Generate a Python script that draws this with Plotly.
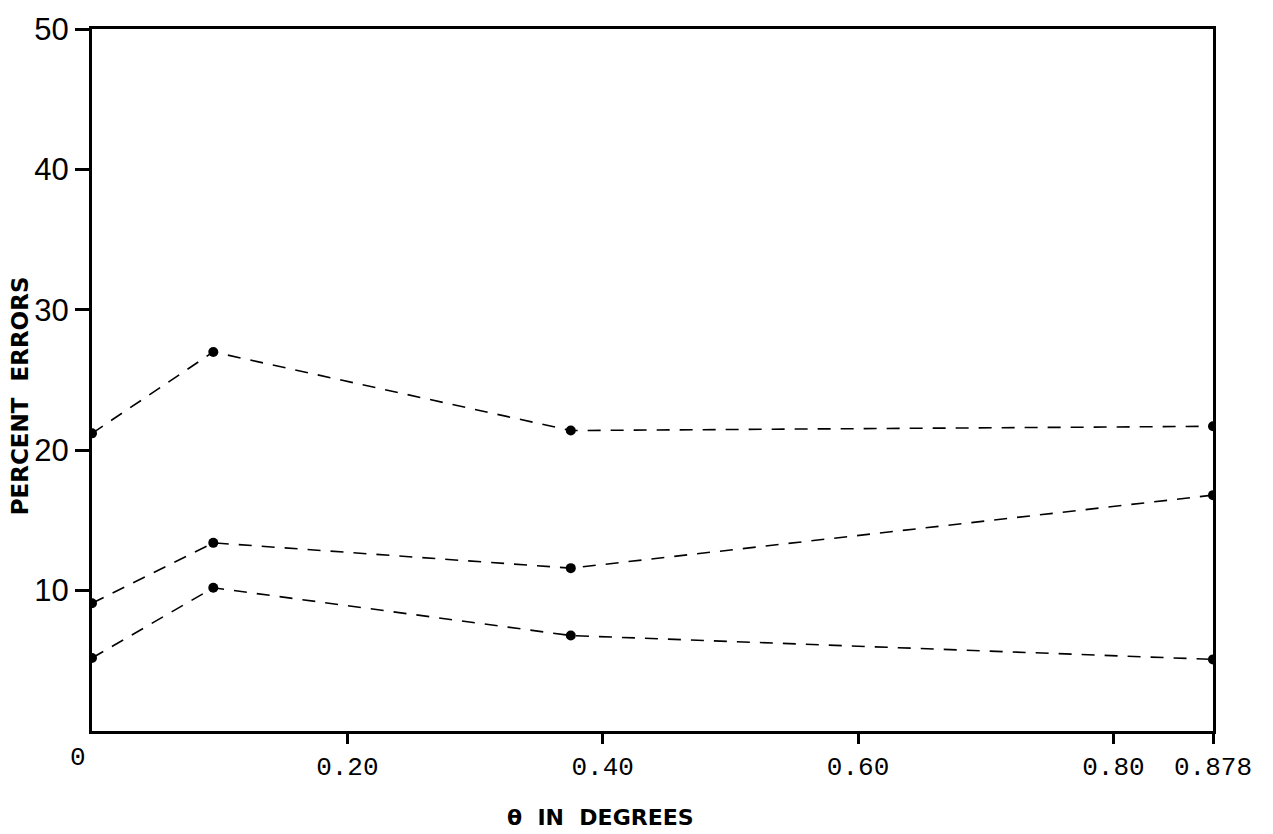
import plotly.graph_objects as go

# ---- data ----
theta = [0.0, 0.095, 0.375, 0.878]
series_upper = [21.2, 27.0, 21.4, 21.7]
series_middle = [9.1, 13.4, 11.6, 16.8]
series_lower = [5.2, 10.2, 6.8, 5.1]

x_tickvals = [0.2, 0.4, 0.6, 0.8, 0.878]
x_ticktext = ["0.20", "0.40", "0.60", "0.80", "0.878"]
y_tickvals = [10, 20, 30, 40, 50]
y_ticktext = ["10", "20", "30", "40", "50"]
origin_label = "0"
x_title = "θ  IN  DEGREES"
y_title = "PERCENT  ERRORS"

W, H = 1273, 834
L, R, T, B = 92, 60, 22, 103

fig = go.Figure()
for ys in (series_upper, series_middle, series_lower):
    fig.add_trace(go.Scatter(
        x=theta, y=ys, mode="lines+markers",
        line=dict(color="black", width=1.6, dash="13px,10px"),
        marker=dict(color="black", size=10),
        showlegend=False, hoverinfo="skip"))

fig.update_layout(
    width=W, height=H,
    margin=dict(l=L, r=R, t=T, b=B),
    paper_bgcolor="white", plot_bgcolor="white",
    xaxis=dict(range=[0, 0.878], tickvals=x_tickvals, ticktext=x_ticktext,
               showgrid=False, zeroline=False, showline=True, mirror=True,
               linecolor="black", linewidth=3, ticks="outside", ticklen=10,
               tickwidth=3, tickcolor="black",
               tickfont=dict(family="Liberation Mono", size=26, color="black")),
    yaxis=dict(range=[0, 50], tickvals=y_tickvals, ticktext=y_ticktext,
               showgrid=False, zeroline=False, showline=True, mirror=True,
               linecolor="black", linewidth=3, ticks="outside", ticklen=14,
               tickwidth=3, tickcolor="black",
               tickfont=dict(family="Liberation Sans", size=31, color="black")),
)

def px_to_paper(px, py):
    return ((px - L) / (W - L - R), 1 - (py - T) / (H - T - B))

ox, oy = px_to_paper(78, 758)
fig.add_annotation(x=ox, y=oy, xref="paper", yref="paper", text=origin_label,
                   showarrow=False, xanchor="center", yanchor="middle",
                   font=dict(family="Liberation Mono", size=26, color="black"))
tx, ty = px_to_paper(600, 818)
fig.add_annotation(x=tx, y=ty, xref="paper", yref="paper", text=f"<b>{x_title}</b>",
                   showarrow=False, xanchor="center", yanchor="middle",
                   font=dict(family="DejaVu Sans", size=22, color="black"))
yx, yy = px_to_paper(20, 393)
fig.add_annotation(x=yx, y=yy, xref="paper", yref="paper", text=f"<b>{y_title}</b>",
                   showarrow=False, xanchor="center", yanchor="middle", textangle=-90,
                   font=dict(family="DejaVu Sans", size=23, color="black"))

fig.write_html("out.html")
